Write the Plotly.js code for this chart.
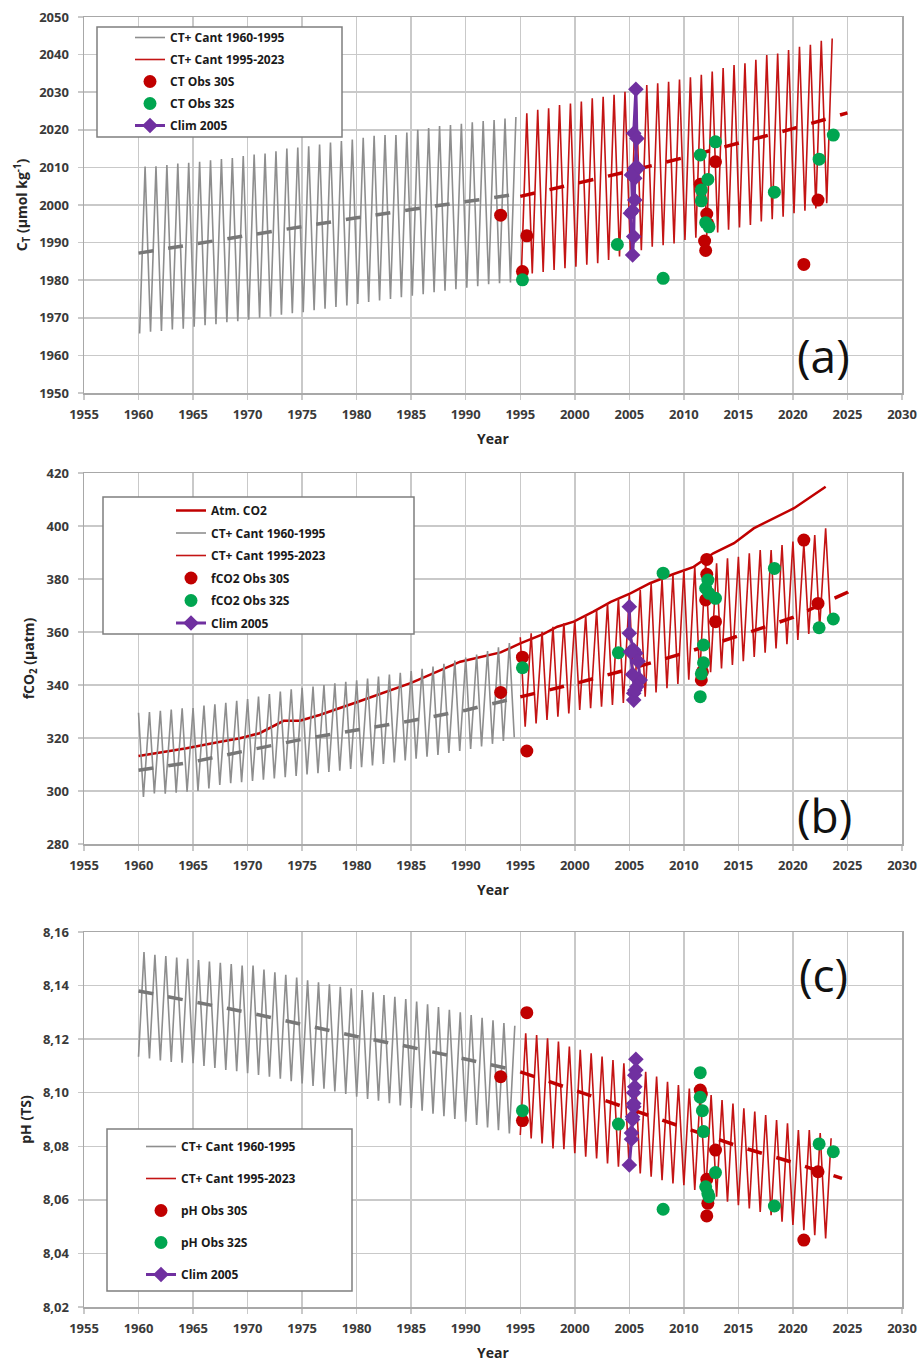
<!DOCTYPE html>
<html><head><meta charset="utf-8">
<script src="https://cdn.plot.ly/plotly-3.0.1.min.js"></script>
<style>html,body{margin:0;padding:0;background:#fff}#chart{width:921px;height:1364px}</style>
</head><body><div id="chart"></div>
<script>
// ---------------- DATA ----------------
const grayYears = Array.from({length:35},(_,i)=>1960+i);   // 1960..1994
const redYears  = Array.from({length:29},(_,i)=>1995+i);   // 1995..2023

// Panel (a) CT seasonal envelope (annual maxima / minima)
const ctGrayPeaks = [2010.2,2010.3,2010.6,2011.0,2011.2,2011.5,2011.9,2012.2,2012.5,2013.0,2013.4,2013.7,2014.3,2015.0,2015.3,2015.6,2016.1,2016.6,2017.0,2017.4,2017.9,2018.4,2018.6,2018.6,2019.3,2020.0,2020.5,2021.0,2021.3,2021.6,2022.0,2022.3,2022.6,2023.0,2023.4];
const ctGrayTroughs = [1965.8,1966.3,1966.5,1966.9,1967.1,1967.6,1968.0,1968.3,1968.8,1969.1,1969.5,1970.0,1970.3,1970.8,1971.2,1971.5,1972.0,1972.4,1972.9,1973.3,1973.7,1974.2,1974.6,1975.0,1975.5,1975.9,1976.3,1976.8,1977.2,1977.6,1978.0,1978.4,1978.9,1979.2,1979.4];
const ctRedPeaks = [2024.4,2025.3,2025.7,2026.6,2027.0,2027.5,2028.4,2028.8,2029.3,2030.1,2030.8,2031.9,2032.4,2032.8,2033.4,2034.0,2034.6,2035.5,2036.4,2037.2,2037.7,2038.6,2039.9,2040.3,2041.2,2042.1,2042.6,2043.7,2044.3];
const ctRedTroughs = [1981.4,1981.8,1982.2,1982.7,1983.2,1983.6,1984.1,1984.5,1985.4,1986.3,1987.2,1988.0,1988.9,1989.3,1989.8,1990.7,1991.3,1992.0,1992.7,1993.4,1994.0,1994.7,1995.6,1996.2,1996.9,1997.8,1998.5,1999.1,2000.5];
const ctGrayMeanX = [1960,1965,1970,1975,1980,1985,1990,1995];
const ctGrayMean  = [1987.2,1989.6,1992.0,1994.3,1996.6,1998.8,2000.9,2003.0];
const ctRedMeanX  = [1995,2000,2005,2010,2015,2020,2025];
const ctRedMean   = [2002.3,2005.6,2009.0,2012.6,2016.4,2020.3,2024.5];
const ctObs30X = [1993.2,1995.2,1995.6,2011.5,2012.1,2012.2,2011.9,2012.0,2012.9,2021.0,2022.3];
const ctObs30Y = [1997.3,1982.3,1991.8,2005.5,1997.6,1995.0,1990.4,1987.9,2011.5,1984.2,2001.3];
const ctObs32X = [1995.2,2003.9,2008.1,2011.5,2011.6,2011.6,2012.2,2012.0,2012.3,2012.9,2018.3,2022.4,2023.7];
const ctObs32Y = [1980.1,1989.5,1980.5,2013.3,2004.0,2001.1,2006.8,1995.3,1994.2,2016.8,2003.4,2012.2,2018.6];
const ctClimX = [2005.1,2005.3,2005.4,2005.5,2005.5,2005.8,2005.4,2005.6,2005.7,2005.5,2005.2,2005.3];
const ctClimY = [1997.8,1986.7,1991.6,2001.3,2007.1,2009.8,2019.1,2030.8,2017.7,2009.8,2008.0,1998.5];

// Panel (b) fCO2
const atmX = [1960,1962,1964.4,1967.5,1969.3,1971.1,1972.3,1973.3,1974.8,1976.6,1980,1985,1989.5,1993.2,1995,1997.1,1998.4,1999.9,2001.7,2003.3,2005.1,2006.9,2009,2010.9,2012.7,2014.6,2016.4,2018.2,2020.1,2023];
const atmY = [313.2,314.5,316.1,318.6,319.9,321.8,324.3,326.5,326.5,328.7,333.5,340.8,348.8,352.3,355.7,359.2,362.0,363.9,367.7,371.4,374.6,378.4,381.8,384.6,389.7,393.5,399.1,402.9,406.7,414.8];
const fGrayPeaks = [329.5,329.8,330.3,330.7,331.2,331.3,332.2,332.7,333.3,334.0,334.7,335.6,336.6,337.5,338.4,338.9,339.4,340.0,340.6,341.2,341.8,342.4,343.2,343.9,344.6,345.3,346.1,347.0,348.0,349.2,350.4,351.5,352.8,354.2,355.8];
const fGrayTroughs = [297.8,299.1,299.0,299.4,299.7,300.0,301.0,302.3,302.9,303.3,303.8,304.3,304.7,305.2,305.7,306.2,306.7,307.2,307.7,308.3,309.0,309.6,310.2,310.8,311.5,312.2,312.9,313.6,314.4,315.1,315.9,316.8,317.8,318.9,320.3];
const fRedPeaks = [358.0,359.5,360.1,362.0,363.3,364.5,366.4,368.3,370.8,372.7,374.0,375.8,378.4,380.3,381.5,383.4,384.6,386.5,385.9,387.8,388.4,389.7,390.9,390.9,392.8,394.1,393.5,396.6,399.1];
const fRedTroughs = [324.3,325.5,326.8,328.0,329.3,330.6,331.2,331.8,332.5,333.2,334.0,335.6,337.2,338.8,340.4,342.0,343.4,344.8,346.2,347.6,349.0,350.6,352.2,353.8,355.4,357.0,359.3,361.6,364.0];
const fGrayMeanX = [1960,1965,1970,1975,1980,1985,1990,1995];
const fGrayMean  = [307.8,311.0,315.3,319.5,323.0,326.5,330.5,335.5];
const fRedMeanX  = [1995,2000,2005,2010,2015,2020,2025,2026];
const fRedMean   = [335.5,340.5,346.0,352.0,358.5,365.5,375.0,378.0];
const fObs30X = [1993.2,1995.2,1995.6,2012.1,2012.1,2012.0,2011.6,2011.7,2012.9,2021.0,2022.3];
const fObs30Y = [337.2,350.5,315.1,387.4,381.8,372.1,341.9,345.0,363.9,394.7,370.8];
const fObs32X = [1995.2,2004.0,2008.1,2011.5,2011.6,2011.8,2011.8,2012.2,2012.0,2012.3,2012.9,2018.3,2022.4,2023.7];
const fObs32Y = [346.5,352.2,382.2,335.6,344.2,348.4,355.1,379.6,376.5,374.6,372.7,384.0,361.6,364.9];
const fClimX = [2005.0,2005.0,2005.4,2005.6,2005.8,2006.0,2005.7,2005.4,2005.4,2005.5,2005.3,2005.1];
const fClimY = [369.5,359.5,353.2,352.0,349.0,341.9,339.4,336.9,334.3,338.0,344.0,352.5];

// Panel (c) pH
const pGrayPeaks = [8.1525,8.1515,8.151,8.1505,8.150,8.1495,8.149,8.1485,8.148,8.1475,8.1475,8.146,8.145,8.144,8.143,8.142,8.1412,8.1405,8.1395,8.139,8.1383,8.1375,8.1365,8.1358,8.135,8.134,8.133,8.132,8.131,8.130,8.129,8.128,8.127,8.126,8.125];
const pGrayTroughs = [8.1134,8.1128,8.112,8.1115,8.1112,8.111,8.110,8.1092,8.1085,8.108,8.1073,8.1066,8.106,8.1052,8.1043,8.1035,8.1025,8.1015,8.1005,8.0995,8.0985,8.0977,8.097,8.0961,8.0952,8.0943,8.0933,8.0922,8.0912,8.0902,8.0892,8.088,8.087,8.086,8.0848];
const pRedPeaks = [8.1222,8.1215,8.1203,8.1191,8.1172,8.116,8.1147,8.1135,8.1122,8.111,8.1097,8.1078,8.106,8.1041,8.1029,8.1016,8.0998,8.0991,8.0973,8.096,8.0942,8.093,8.0917,8.0898,8.0886,8.0861,8.0861,8.0849,8.083];
const pRedTroughs = [8.0842,8.0829,8.0811,8.0792,8.0789,8.0774,8.0761,8.0755,8.0736,8.0724,8.0711,8.0699,8.0686,8.0673,8.0661,8.0655,8.0637,8.0624,8.0612,8.0593,8.058,8.0568,8.0555,8.0543,8.0518,8.0506,8.0487,8.0468,8.0456];
const pGrayMeanX = [1960,1965,1970,1975,1980,1985,1990,1995];
const pGrayMean  = [8.138,8.134,8.130,8.1255,8.121,8.117,8.1125,8.108];
const pRedMeanX  = [1995,2000,2005,2010,2015,2020,2024.5];
const pRedMean   = [8.1078,8.101,8.094,8.087,8.080,8.074,8.068];
const pObs30X = [1993.2,1995.6,1995.2,2011.5,2011.6,2012.1,2012.2,2012.1,2012.9,2021.0,2022.3];
const pObs30Y = [8.106,8.1299,8.0896,8.101,8.0995,8.0677,8.0587,8.054,8.0786,8.045,8.0705];
const pObs32X = [1995.2,2004.0,2008.1,2011.5,2011.5,2011.7,2011.8,2012.0,2012.2,2012.3,2012.9,2018.3,2022.4,2023.7];
const pObs32Y = [8.0933,8.0883,8.0565,8.1075,8.0983,8.0933,8.0855,8.0649,8.0624,8.0612,8.0702,8.0577,8.0809,8.078];
const pClimX = [2005.0,2005.2,2005.3,2005.4,2005.5,2005.6,2005.6,2005.5,2005.4,2005.4,2005.3,2005.2];
const pClimY = [8.073,8.0826,8.091,8.0948,8.1022,8.1085,8.1125,8.1065,8.100,8.096,8.090,8.085];

// ---------------- STYLE / BUILD ----------------
const W=921, H=1364, ML=84, MR=19, MT=17, MB=57;
const PW = W-ML-MR, PH = H-MT-MB;
const px2x = p => (p-ML)/PW;
const py2y = p => 1-(p-MT)/PH;

function zigzag(years, lows, highs, lowPhase, highPhase){
  const x=[], y=[];
  for(let i=0;i<years.length;i++){
    const pts=[[years[i]+lowPhase,lows[i]],[years[i]+highPhase,highs[i]]].sort((a,b)=>a[0]-b[0]);
    pts.forEach(p=>{x.push(p[0]);y.push(p[1]);});
  }
  return {x,y};
}

const GRAY='#8e8e8e', RED='#c41414', DRED='#c00000', GREEN='#00a550', PURPLE='#7030a0';
const traces=[];
function panel(n, gp, gt, rp, rt, ph, gmx, gm, rmx, rm, o30x, o30y, o32x, o32y, cx, cy, names, atm){
  const xa = n===1?'x':'x'+n, ya = n===1?'y':'y'+n, lg = n===1?'legend':'legend'+n;
  const g = zigzag(grayYears, gt, gp, ph[0], ph[1]);
  const r = zigzag(redYears, rt, rp, ph[0], ph[1]);
  let rank=1;
  if(atm){
    traces.push({x:atmX,y:atmY,xaxis:xa,yaxis:ya,mode:'lines',line:{color:DRED,width:2.5},name:'Atm. CO2',legend:lg,legendgroup:lg+'atm',legendrank:rank++});
  }
  traces.push({x:g.x,y:g.y,xaxis:xa,yaxis:ya,mode:'lines',line:{color:GRAY,width:1.6},name:'CT+ Cant 1960-1995',legend:lg,legendgroup:lg+'g',legendrank:rank++});
  traces.push({x:r.x,y:r.y,xaxis:xa,yaxis:ya,mode:'lines',line:{color:RED,width:1.6},name:'CT+ Cant 1995-2023',legend:lg,legendgroup:lg+'r',legendrank:rank++});
  traces.push({x:gmx,y:gm,xaxis:xa,yaxis:ya,mode:'lines',line:{color:'#777777',width:3.5,dash:'15px,15px'},showlegend:false});
  traces.push({x:rmx,y:rm,xaxis:xa,yaxis:ya,mode:'lines',line:{color:DRED,width:3.5,dash:'15px,15px'},showlegend:false});
  traces.push({x:o30x,y:o30y,xaxis:xa,yaxis:ya,mode:'markers',marker:{color:DRED,size:13},name:names[0],legend:lg,legendgroup:lg+'o30',legendrank:rank++});
  traces.push({x:o32x,y:o32y,xaxis:xa,yaxis:ya,mode:'markers',marker:{color:GREEN,size:13},name:names[1],legend:lg,legendgroup:lg+'o32',legendrank:rank++});
  traces.push({x:cx,y:cy,xaxis:xa,yaxis:ya,mode:'lines+markers',line:{color:PURPLE,width:3},marker:{color:PURPLE,symbol:'diamond',size:12},name:'Clim 2005',legend:lg,legendgroup:lg+'c',legendrank:rank++});
}
panel(1, ctGrayPeaks, ctGrayTroughs, ctRedPeaks, ctRedTroughs, [0.1,0.6], ctGrayMeanX, ctGrayMean, ctRedMeanX, ctRedMean, ctObs30X, ctObs30Y, ctObs32X, ctObs32Y, ctClimX, ctClimY, ['CT Obs 30S','CT Obs 32S'], false);
panel(2, fGrayPeaks, fGrayTroughs, fRedPeaks, fRedTroughs, [0.45,0.0], fGrayMeanX, fGrayMean, fRedMeanX, fRedMean, fObs30X, fObs30Y, fObs32X, fObs32Y, fClimX, fClimY, ['fCO2 Obs 30S','fCO2 Obs 32S'], true);
panel(3, pGrayPeaks, pGrayTroughs, pRedPeaks, pRedTroughs, [0.0,0.5], pGrayMeanX, pGrayMean, pRedMeanX, pRedMean, pObs30X, pObs30Y, pObs32X, pObs32Y, pClimX, pClimY, ['pH Obs 30S','pH Obs 32S'], false);

const FONT='Open Sans';
const tickfont={family:FONT,size:13,color:'#3a3a3a',weight:'bold'};
const titlefont={family:FONT,size:14,color:'#262626',weight:'bold'};
function xaxisDef(anchor){
  return {anchor, domain:[0,1], range:[1955,2030], tick0:1955, dtick:5, showgrid:true, gridcolor:'#c9c9c9', gridwidth:1.5,
    showline:true, mirror:true, linecolor:'#a8a8a8', linewidth:1.5, ticks:'outside', ticklen:5, tickcolor:'#c9c9c9', tickwidth:1.5,
    tickfont, ticklabelstandoff:4, zeroline:false, title:{text:'Year', font:titlefont, standoff:12}, automargin:false};
}
function yaxisDef(anchor, dom, range, dtick, title, fmt){
  const a = {anchor, domain:dom, range, dtick, showgrid:true, gridcolor:'#c9c9c9', gridwidth:1.5,
    showline:true, mirror:true, linecolor:'#a8a8a8', linewidth:1.5, ticks:'outside', ticklen:5, tickcolor:'#c9c9c9', tickwidth:1.5,
    tickfont, ticklabelstandoff:6, zeroline:false, title:{text:title, font:titlefont, standoff:8}, automargin:false};
  if(fmt) a.tickformat=fmt;
  return a;
}
const domA=[py2y(393),py2y(17)], domB=[py2y(844),py2y(473)], domC=[py2y(1307),py2y(932)];

const legFont={family:FONT,size:12,color:'#1a1a1a',weight:'bold'};
function legendDef(xPx, yPx, gap){
  return {x:px2x(xPx), y:py2y(yPx), xanchor:'left', yanchor:'top', bgcolor:'rgba(0,0,0,0)', borderwidth:0,
    font:legFont, traceorder:'grouped', tracegroupgap:gap, itemwidth:30};
}
function box(x0,y0,x1,y1){
  return {type:'rect', xref:'paper', yref:'paper', x0:px2x(x0), x1:px2x(x1), y0:py2y(y1), y1:py2y(y0),
    fillcolor:'#ffffff', line:{color:'#7f7f7f', width:1.5}, layer:'above'};
}
function label(t, cxPx, cyPx){
  return {text:t, xref:'paper', yref:'paper', x:px2x(cxPx), y:py2y(cyPx), xanchor:'center', yanchor:'middle', showarrow:false,
    font:{family:FONT, size:46, color:'#111'}};
}

const layout = {
  width:W, height:H, margin:{l:ML, r:MR, t:MT, b:MB}, paper_bgcolor:'#ffffff', plot_bgcolor:'#ffffff',
  separators:',.', showlegend:true,
  xaxis: xaxisDef('y'), xaxis2: xaxisDef('y2'), xaxis3: xaxisDef('y3'),
  yaxis: yaxisDef('x', domA, [1950,2050], 10, 'C<sub>T</sub> (µmol kg<sup>-1</sup>)'),
  yaxis2: yaxisDef('x2', domB, [280,420], 20, 'fCO<sub>2</sub> (µatm)'),
  yaxis3: yaxisDef('x3', domC, [8.02,8.16], 0.02, 'pH (TS)', '.2f'),
  legend: legendDef(130, 23, 3),
  legend2: legendDef(171, 496, 3.5),
  legend3: legendDef(141, 1132, 13),
  shapes: [box(97,27,342,137), box(103,497,414,634), box(107,1129,352,1291)],
  annotations: [label('(a)',823,355), label('(b)',824,815), label('(c)',823,974)]
};
Plotly.newPlot('chart', traces, layout, {displayModeBar:false, staticPlot:true});
</script></body></html>
